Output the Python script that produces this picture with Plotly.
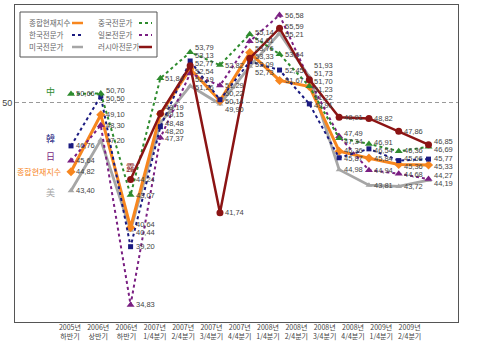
import plotly.graph_objects as go

periods = ["2005년 하반기", "2006년 상반기", "2006년 하반기", "2007년 1/4분기", "2007년 2/4분기",
           "2007년 3/4분기", "2007년 4/4분기", "2008년 1/4분기", "2008년 2/4분기", "2008년 3/4분기",
           "2008년 4/4분기", "2009년 1/4분기", "2009년 2/4분기"]
tick_labels = ["2005년<br>하반기", "2006년<br>상반기", "2006년<br>하반기", "2007년<br>1/4분기",
               "2007년<br>2/4분기", "2007년<br>3/4분기", "2007년<br>4/4분기", "2008년<br>1/4분기",
               "2008년<br>2/4분기", "2008년<br>3/4분기", "2008년<br>4/4분기", "2009년<br>1/4분기",
               "2009년<br>2/4분기"]

composite = [44.82, 49.10, 40.64, 49.15, 52.54, 50.14, 53.76, 51.67, 51.22, 46.36, 45.84, 45.36, 45.33]
china     = [50.66, 50.70, 43.07, 51.84, 53.79, 52.82, 55.14, 53.64, 51.23, 47.34, 46.91, 46.36, 46.69]
korea     = [46.76, 50.50, 39.20, 48.20, 53.13, 50.22, 53.09, 52.45, 49.91, 45.87, 46.54, 45.66, 45.77]
japan     = [45.64, 48.30, 34.83, 47.37, 52.19, 51.29, 54.61, 56.58, 51.70, 47.49, 44.94, 44.68, 44.27]
usa       = [43.40, 47.20, 40.44, 48.48, 51.26, 49.90, 52.73, 55.21, 51.93, 44.98, 43.81, 43.72, 44.19]
russia    = [None, None, 44.24, 49.19, 52.77, 41.74, 53.33, 55.59, 51.73, 48.91, 48.82, 47.86, 46.85]

series_names = ["종합현재지수", "중국전문가", "한국전문가", "일본전문가", "미국전문가", "러시아전문가"]
side_labels = ["종합현재지수", "中", "韓", "日", "美", "露"]

# style per series: color, width, dash, symbol, size
styles = [
    ("#F7861E", 3.0, "solid", "diamond", 7),
    ("#2E8B2E", 2, "dot", "triangle-up", 7),
    ("#1A1A80", 2, "dot", "square", 5),
    ("#7A1F82", 2, "dot", "triangle-up", 7),
    ("#A6A6A6", 2.8, "solid", "triangle-up", 6),
    ("#8B1414", 2.5, "solid", "circle", 7),
]
data = [composite, china, korea, japan, usa, russia]

W, H = 480, 357
ml, mr, mt, mb = 15, 22, 5, 35
y_lo, y_hi = 33.55, 57.33
x_lo, x_hi = -1.88, 12.99
plot_h = H - mt - mb
k = plot_h / (y_hi - y_lo)

fig = go.Figure()
draw_order = [4, 0, 3, 2, 1, 5]
for s in draw_order:
    c, w, d, sym, sz = styles[s]
    fig.add_trace(go.Scatter(
        x=periods, y=data[s], mode="lines+markers", name=series_names[s],
        line=dict(color=c, width=w, dash=d),
        marker=dict(symbol=sym, size=sz, color=c),
        connectgaps=False, showlegend=False, hoverinfo="skip"))

# invisible helper trace for the category label axis
fig.add_trace(go.Scatter(x=list(range(len(tick_labels))), y=[None] * len(tick_labels),
                         xaxis="x2", showlegend=False, hoverinfo="skip", mode="markers"))

# value labels with simple vertical decluttering
def declutter(targets, gap):
    blocks = []
    for t in targets:
        blocks.append([[t], t])
        while len(blocks) > 1:
            a, b = blocks[-2], blocks[-1]
            if a[1] + len(a[0]) * gap > b[1]:
                items = a[0] + b[0]
                top = sum(items[j] - j * gap for j in range(len(items))) / len(items)
                blocks[-2:] = [[items, top]]
            else:
                break
    out = []
    for items, top in blocks:
        for j in range(len(items)):
            out.append(top + j * gap)
    return out

annotations = []
for i in range(len(periods)):
    pts = []
    for s in range(6):
        v = data[s][i]
        if v is None:
            continue
        pts.append((mt + (y_hi - v) * k, v))
    pts.sort()
    placed = declutter([p[0] for p in pts], 8.0)
    for (t, v), p in zip(pts, placed):
        annotations.append(dict(
            x=periods[i], y=v, xref="x", yref="y", text=f"{v:.2f}".replace(".", ","),
            showarrow=False, xanchor="left", yanchor="middle", xshift=4, yshift=t - p,
            borderpad=0,
            font=dict(size=7.5, color="#444", family="Liberation Sans, Arial")))

# series name labels next to first points
side_shift = {0: (-8, 0), 1: (-14, 2), 2: (-14, 7), 3: (-14, 4), 4: (-14, -2)}
for s in range(6):
    first = next(j for j, v in enumerate(data[s]) if v is not None)
    c = styles[s][0]
    if s == 5:
        annotations.append(dict(x=periods[first], y=data[s][first], xref="x", yref="y",
                                text=side_labels[s], showarrow=False, xanchor="center",
                                yanchor="middle", yshift=12,
                                font=dict(size=9, color=c, family="Noto Sans CJK KR")))
    else:
        dx, dy = side_shift[s]
        annotations.append(dict(x=periods[first], y=data[s][first], xref="x", yref="y",
                                text=side_labels[s], showarrow=False, xanchor="right",
                                yanchor="middle", xshift=dx, yshift=dy,
                                font=dict(size=8 if s == 0 else 9, color=c,
                                          family="Noto Sans CJK KR")))

# custom legend (text then line sample)
def px_x(px):
    return (px - ml) / (W - ml - mr)

def px_y(py):
    return (H - mb - py) / plot_h

shapes = [dict(type="rect", xref="paper", yref="paper", x0=px_x(20), x1=px_x(157),
               y0=px_y(57), y1=px_y(12), line=dict(color="#555", width=1),
               fillcolor="white", layer="above")]
col_text = [27, 96]
col_line = [(72, 83), (139, 152)]
rows = [23, 35, 47]
for s in range(6):
    r, cidx = s // 2, s % 2
    c, w, d, sym, sz = styles[s]
    annotations.append(dict(x=px_x(col_text[cidx]), y=px_y(rows[r]), xref="paper", yref="paper",
                            text=series_names[s], showarrow=False, xanchor="left",
                            yanchor="middle",
                            font=dict(size=7.5, color="#666", family="Noto Sans CJK KR")))
    shapes.append(dict(type="line", xref="paper", yref="paper",
                       x0=px_x(col_line[cidx][0]), x1=px_x(col_line[cidx][1]),
                       y0=px_y(rows[r]), y1=px_y(rows[r]), layer="above",
                       line=dict(color=c, width=min(w, 2.5), dash=d)))

fig.update_layout(
    width=W, height=H, margin=dict(l=ml, r=mr, t=mt, b=mb, autoexpand=False),
    paper_bgcolor="white", plot_bgcolor="white",
    showlegend=False,
    xaxis=dict(range=[x_lo, x_hi], showticklabels=False, showgrid=False, zeroline=False,
               showline=True, mirror=True, linecolor="#555", linewidth=1, ticks="",
               automargin=False),
    xaxis2=dict(overlaying="x", anchor="y", side="bottom", range=[-1.94, 13.71],
                tickmode="array", tickvals=list(range(len(tick_labels))), ticktext=tick_labels,
                showgrid=False, zeroline=False, showline=False, ticks="", automargin=False,
                tickfont=dict(size=7, color="#444", family="Noto Sans CJK KR")),
    yaxis=dict(range=[y_lo, y_hi], tickmode="array", tickvals=[50], ticktext=["50"],
               showgrid=True, gridcolor="#999", griddash="4px,3px", gridwidth=1,
               zeroline=False, showline=True, mirror=True, linecolor="#555", linewidth=1,
               ticks="", automargin=False,
               tickfont=dict(size=9, color="#444", family="Liberation Sans")),
    annotations=annotations, shapes=shapes,
)

fig.write_html("out.html", config={"displayModeBar": False, "staticPlot": True},
               post_script="document.body.style.margin='0px';")
